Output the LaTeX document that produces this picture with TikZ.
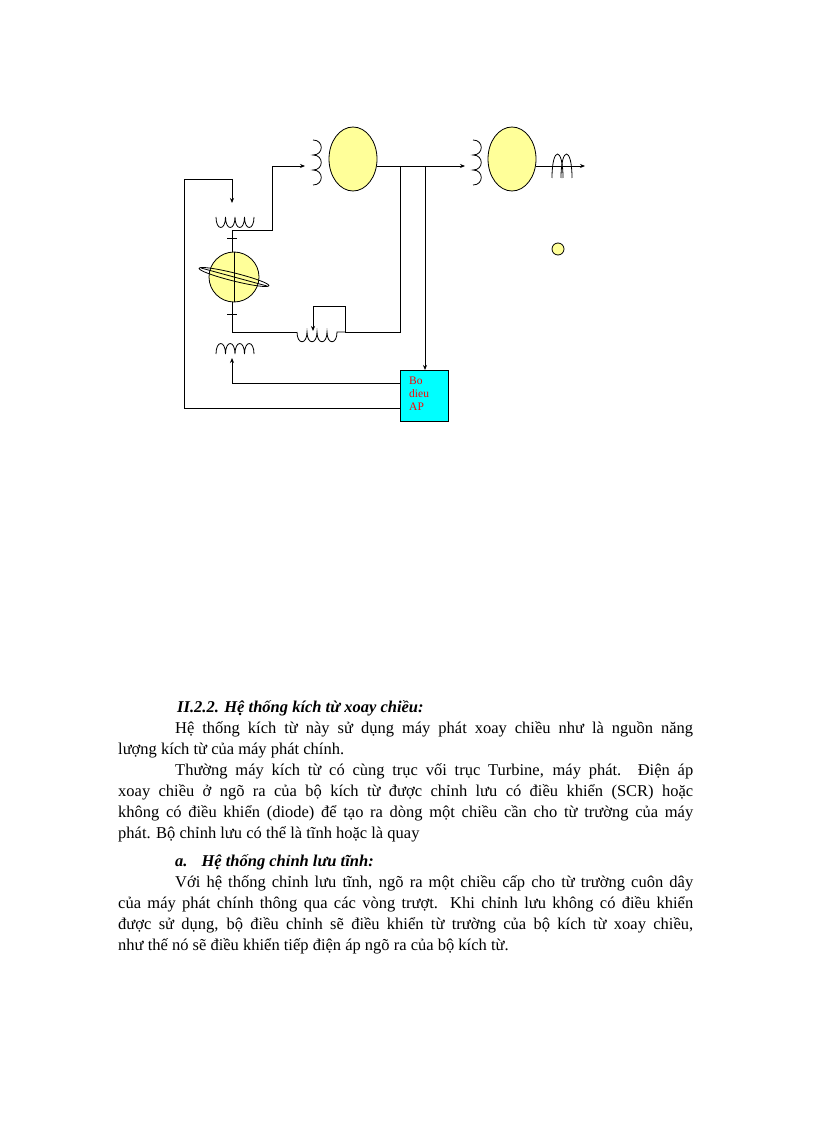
\documentclass[tikz,border=0pt]{standalone}
\usepackage{fontspec}
\setmainfont{Liberation Serif}
\usetikzlibrary{arrows.meta,shapes.geometric}
\definecolor{gy}{RGB}{255,255,153}
\definecolor{cy}{RGB}{0,255,255}
\begin{document}
\begin{tikzpicture}[x=1pt,y=-1pt,
  wire/.style={line width=0.8pt},
  arr/.style={wire,-{Stealth[length=5pt,width=4pt]}},
  mach/.style={draw,line width=0.8pt,fill=gy}]
\useasboundingbox (0,0) rectangle (816,1123);
% exciter field coil (vertical)
\draw[wire] (313,140) .. controls (324,140) and (324,155) .. (313,155)
            .. controls (324,155) and (324,170) .. (313,170)
            .. controls (324,170) and (324,185) .. (313,185);
\node[mach,ellipse,minimum width=48pt,minimum height=64pt,inner sep=0pt] (g1) at (353,159) {};
\draw[wire] (473,140) .. controls (484,140) and (484,155) .. (473,155)
            .. controls (484,155) and (484,170) .. (473,170)
            .. controls (484,170) and (484,185) .. (473,185);
\node[mach,ellipse,minimum width=48pt,minimum height=64pt,inner sep=0pt] (g2) at (512,159) {};
\node[mach,circle,minimum size=12pt,inner sep=0pt] (sc) at (558,249) {};
% coordinates
\coordinate (a1) at (377,166); \coordinate (a2) at (465,166);
\coordinate (b1) at (536,166); \coordinate (b2) at (585,166);
\coordinate (j1) at (400,166); \coordinate (j2) at (425,166);
\node[draw,line width=0.8pt,fill=cy,minimum width=48pt,minimum height=51pt,anchor=north west,inner sep=0pt] (box) at (400,370) {};
\node[text=red,font=\fontsize{11.5}{13}\selectfont,align=left,anchor=north west,inner sep=0pt] (bt) at (409,377) {Bo\\dieu\\AP};
\draw[arr] (a1) -- (a2);
\draw[arr] (b1) -- (b2);
\draw[wire] (552,178) .. controls (552,146) and (563,146) .. (563,178);
\draw[wire] (561,178) .. controls (561,146) and (572,146) .. (572,178);
\draw[wire] (j1) -- (400,332) -- (345,332) -- (345,306) -- (313,306);
\draw[arr] (313,306) -- (313,331);
\draw[arr] (j2) -- (box.north -| j2);
% rheostat coil
\draw[wire] (297,332) .. controls (297,345) and (307,345) .. (307,332)
   .. controls (307,345) and (317,345) .. (317,332)
   .. controls (317,345) and (327,345) .. (327,332)
   .. controls (327,345) and (337,345) .. (337,332) -- (345,332);
\draw[wire] (297,332) -- (232,332) -- (232,230) -- (272,230) -- (272,166);
\draw[arr] (272,166) -- (305,166);
% upper coil
\draw[wire] (216,217) .. controls (216,231) and (225.5,231) .. (225.5,217)
  .. controls (225.5,231) and (235,231) .. (235,217)
  .. controls (235,231) and (244.5,231) .. (244.5,217)
  .. controls (244.5,231) and (254,231) .. (254,217);
% lower coil
\draw[wire] (216,354) .. controls (216,340) and (225.5,340) .. (225.5,354)
  .. controls (225.5,340) and (235,340) .. (235,354)
  .. controls (235,340) and (244.5,340) .. (244.5,354)
  .. controls (244.5,340) and (254,340) .. (254,354);
% ticks
\draw[wire] (227,238) -- (237,238); \draw[wire] (227,314) -- (237,314);
% exciter
\node[mach,circle,minimum size=50pt,inner sep=0pt] (ex) at (234,277) {};
\draw[wire] (ex.north) -- (ex.south);
\draw[wire,rotate around={-14:(234,277)}] (234,277) ellipse (36pt and 4pt);
\draw[wire] (201,268) -- (267,286);
% feedback
\draw[wire] (box.west |- 0,408) -- (184,408) -- (184,179) -- (232,179);
\draw[arr] (232,179) -- (232,203);
\draw[arr] (box.west |- 0,383) -- (232,383) -- (232,358);
% text
\node[anchor=north west,inner sep=0pt] (txt) at (118,700) {\parbox{575pt}{%
\fontsize{16.5}{21}\selectfont\setlength\parindent{0pt}%
\hspace*{59pt}\textbf{\textit{II.2.2. Hệ thống kích từ xoay chiều:}}\par
\hspace*{57pt}Hệ thống kích từ này sử dụng máy phát xoay chiều như là nguồn năng\linebreak
lượng kích từ của máy phát chính.\par
\hspace*{57pt}Thường máy kích từ có cùng trục vối trục Turbine, máy phát. Điện áp\linebreak
xoay chiều ở ngõ ra của bộ kích từ được chỉnh lưu có điều khiển (SCR) hoặc\linebreak
không có điều khiển (diode) để tạo ra dòng một chiều cần cho từ trường của máy\linebreak
phát. Bộ chỉnh lưu có thể là tĩnh hoặc là quay\par
\vspace{7pt}
\hspace*{57pt}\textbf{\textit{a.\hspace{14pt}Hệ thống chỉnh lưu tĩnh:}}\par
\hspace*{57pt}Với hệ thống chỉnh lưu tĩnh, ngõ ra một chiều cấp cho từ trường cuôn dây\linebreak
của máy phát chính thông qua các vòng trượt. Khi chỉnh lưu không có điều khiển\linebreak
được sử dụng, bộ điều chỉnh sẽ điều khiển từ trường của bộ kích từ xoay chiều,\linebreak
như thế nó sẽ điều khiển tiếp điện áp ngõ ra của bộ kích từ.\par}};
\end{tikzpicture}
\end{document}
